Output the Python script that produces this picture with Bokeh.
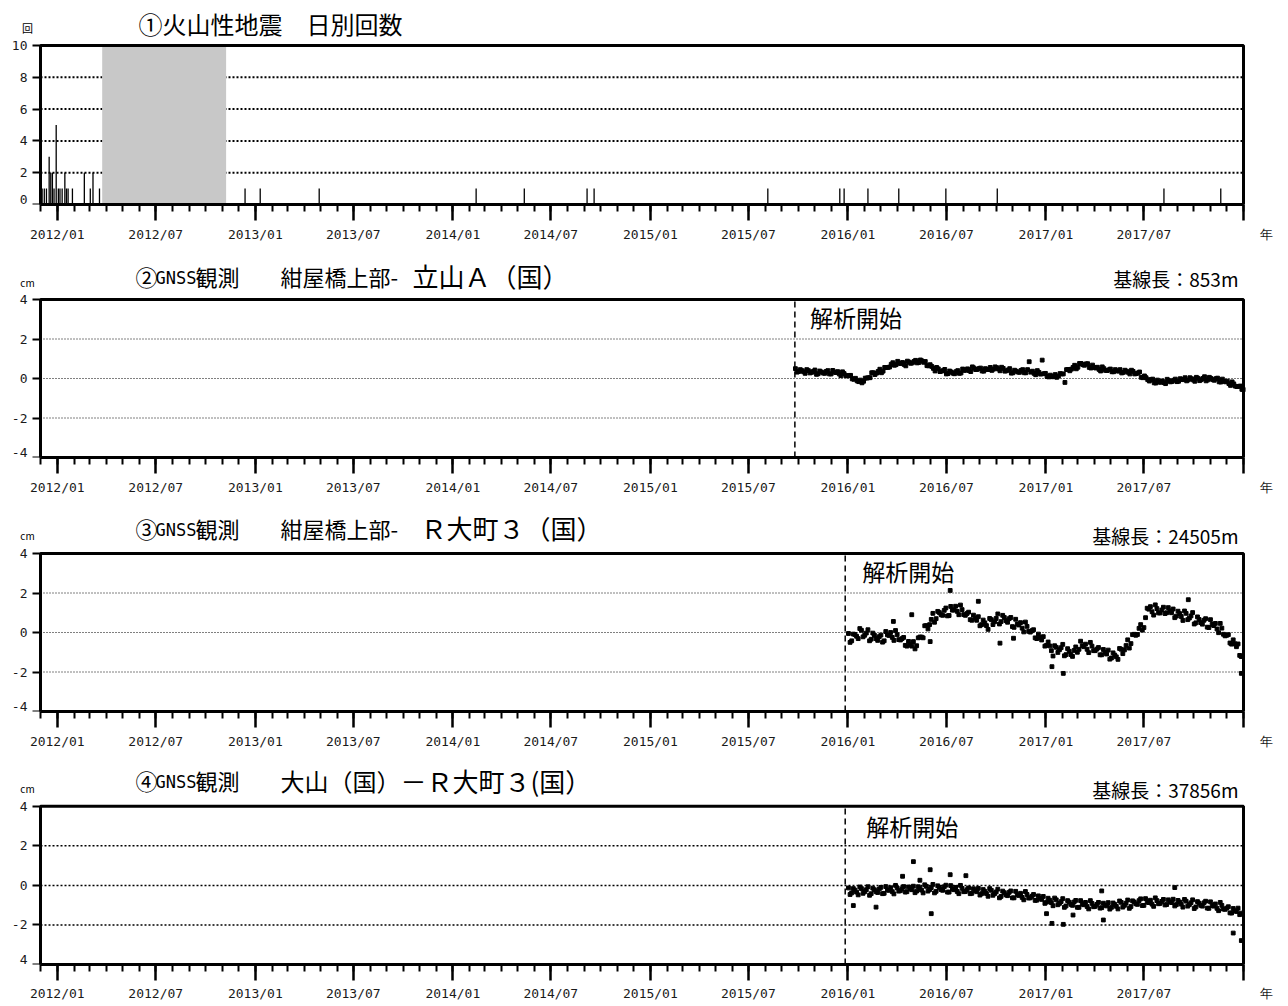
import pandas as pd
from bokeh.plotting import figure
from bokeh.layouts import column
from bokeh.models import Range1d, FixedTicker, Label, DatetimeTickFormatter
from bokeh.embed import file_html
from bokeh.resources import INLINE

# ---------------- data ----------------
x_start = "2011-12-01"
x_end = "2018-01-01"
major_tick_dates = ["2012-01-01", "2012-07-01", "2013-01-01", "2013-07-01", "2014-01-01",
                    "2014-07-01", "2015-01-01", "2015-07-01", "2016-01-01", "2016-07-01",
                    "2017-01-01", "2017-07-01"]
major_tick_labels = ["2012/01", "2012/07", "2013/01", "2013/07", "2014/01", "2014/07",
                     "2015/01", "2015/07", "2016/01", "2016/07", "2017/01", "2017/07"]
x_unit_label = "年"

# panel 1 : daily volcanic earthquake counts
eq_dates = ["2011-12-04", "2011-12-08", "2011-12-12", "2011-12-17", "2011-12-20", "2011-12-23",
            "2011-12-26", "2011-12-30", "2012-01-03", "2012-01-06", "2012-01-10", "2012-01-15",
            "2012-01-18", "2012-01-21", "2012-01-29", "2012-02-20", "2012-03-02", "2012-03-07",
            "2012-03-19", "2012-12-13", "2013-01-10", "2013-04-29", "2014-02-13", "2014-05-13",
            "2014-09-06", "2014-09-19", "2015-08-06", "2015-12-17", "2015-12-25", "2016-02-07",
            "2016-04-04", "2016-06-30", "2016-10-03", "2017-08-07", "2017-11-20"]
eq_counts = [1, 1, 1, 3, 2, 2, 1, 5, 1, 1, 1, 2, 1, 1, 1, 2, 1, 2, 1,
             1, 1, 1, 1, 1, 1, 1, 1, 1, 1, 1, 1, 1, 1, 1, 1]
gap_start = ["2012-03-24"]
gap_end = ["2012-11-08"]

# panel 2 : 紺屋橋上部-立山Ａ(国)  (samples every 6 days, second set shifted by 3 days)
gnss2_start = "2015-09-26"
gnss2_line = "2015-09-25"
gnss2_vals = [0.50, 0.35, 0.40, 0.26, 0.40, 0.31, 0.43, 0.24, 0.33, 0.26,
              0.40, 0.23, 0.32, 0.35, 0.14, 0.25, 0.13, 0.16, -0.04, -0.12,
              -0.08, -0.14, 0.02, 0.04, 0.29, 0.27, 0.47, 0.37, 0.56, 0.58,
              0.80, 0.70, 0.77, 0.81, 0.64, 0.83, 0.79, 0.92, 0.81, 0.89,
              0.86, 0.64, 0.61, 0.38, 0.49, 0.37, 0.46, 0.25, 0.33, 0.24,
              0.40, 0.28, 0.41, 0.49, 0.35, 0.53, 0.46, 0.53, 0.37, 0.45,
              0.56, 0.47, 0.55, 0.39, 0.51, 0.39, 0.50, 0.29, 0.37, 0.31,
              0.45, 0.29, 0.85, 0.37, 0.19, 0.31, 0.93, 0.26, 0.08, 0.09,
              0.20, 0.12, 0.23, -0.20, 0.46, 0.47, 0.67, 0.57, 0.76, 0.67,
              0.75, 0.53, 0.56, 0.57, 0.38, 0.50, 0.40, 0.48, 0.34, 0.39,
              0.45, 0.31, 0.37, 0.23, 0.36, 0.25, 0.33, 0.04, 0.04, -0.13,
              -0.03, -0.23, -0.18, -0.12, -0.26, -0.10, -0.15, -0.03, -0.14, -0.05,
              0.04, -0.07, -0.01, -0.14, 0.01, -0.06, 0.09, -0.07, 0.00, -0.09,
              0.02, -0.18, -0.14, -0.13, -0.35, -0.27, -0.41, -0.38, -0.56]
gnss2_vals_b = [0.32, 0.45, 0.34, 0.45, 0.28, 0.36, 0.21, 0.38, 0.28, 0.36,
                0.23, 0.41, 0.30, 0.23, 0.34, 0.15, 0.15, -0.02, 0.01, -0.16,
                -0.22, 0.02, 0.04, 0.29, 0.20, 0.36, 0.29, 0.56, 0.56, 0.72,
                0.67, 0.87, 0.76, 0.71, 0.88, 0.77, 0.86, 0.79, 0.94, 0.82,
                0.65, 0.70, 0.51, 0.56, 0.35, 0.40, 0.23, 0.38, 0.27, 0.35,
                0.26, 0.48, 0.42, 0.40, 0.59, 0.45, 0.50, 0.38, 0.50, 0.45,
                0.41, 0.59, 0.48, 0.57, 0.37, 0.43, 0.27, 0.42, 0.33, 0.41,
                0.29, 0.45, 0.32, 0.26, 0.40, 0.22, 0.24, 0.10, 0.17, 0.09,
                0.06, 0.25, 0.23, 0.45, 0.39, 0.56, 0.49, 0.76, 0.70, 0.74,
                0.56, 0.68, 0.53, 0.46, 0.59, 0.41, 0.44, 0.34, 0.45, 0.37,
                0.28, 0.42, 0.31, 0.42, 0.23, 0.28, 0.06, 0.13, -0.06, -0.06,
                -0.22, -0.08, -0.19, -0.21, -0.04, -0.17, -0.09, -0.16, -0.01, -0.06,
                -0.12, 0.04, -0.07, 0.06, -0.11, 0.00, -0.12, 0.06, -0.06, -0.01,
                -0.17, -0.03, -0.17, -0.26, -0.17, -0.39, -0.40, -0.55]

# panel 3 : 紺屋橋上部-Ｒ大町３(国)
gnss3_start = "2016-01-02"
gnss3_line = "2015-12-27"
gnss3_vals = [-0.05, -0.42, -0.10, -0.31, 0.11, -0.14, 0.14, -0.34, -0.14, -0.40,
              -0.13, -0.42, -0.12, 0.00, -0.40, -0.11, -0.38, -0.25, -0.69, -0.62,
              -0.46, -0.67, -0.23, -0.27, 0.35, 0.40, 0.97, 0.70, 1.01, 0.87,
              1.24, 0.86, 1.13, 1.33, 0.90, 1.16, 0.87, 1.03, 0.62, 0.72,
              0.80, 0.40, 0.49, 0.16, 0.65, 0.54, 0.94, 0.55, 0.76, 0.52,
              0.76, 0.26, 0.43, 0.50, 0.03, 0.31, 0.02, 0.14, -0.31, -0.26,
              -0.21, -0.65, -0.68, -1.19, -0.75, -0.87, -0.60, -1.12, -0.95, -1.21,
              -0.73, -0.85, -0.67, -0.59, -1.02, -0.69, -0.92, -0.76, -1.13, -1.00,
              -0.89, -1.29, -1.14, -1.36, -0.85, -0.88, -0.37, -0.56, -0.09, -0.10,
              0.40, 0.25, 1.23, 1.31, 0.88, 1.21, 0.99, 1.28, 1.00, 1.10,
              1.19, 0.83, 0.96, 0.61, 0.97, 0.73, 1.01, 0.49, 0.66, 0.42,
              0.70, 0.25, 0.41, 0.46, -0.01, 0.22, -0.17, -0.11, -0.59, -0.57,
              -0.58, -1.22]
gnss3_vals_b = [-0.50, -0.08, -0.19, 0.20, -0.22, -0.03, -0.42, -0.03, -0.31, -0.21,
                -0.49, 0.05, -0.15, -0.25, 0.10, -0.36, -0.31, -0.65, -0.45, -0.69,
                -0.83, -0.27, -0.23, 0.34, 0.18, 0.66, 0.52, 1.07, 0.90, 1.12,
                0.84, 1.32, 1.14, 1.07, 1.39, 0.91, 0.96, 0.65, 0.88, 0.62,
                0.34, 0.63, 0.35, 0.71, 0.40, 0.71, 0.43, 0.87, 0.60, 0.70,
                0.30, 0.67, 0.38, 0.22, 0.53, 0.06, 0.09, -0.27, -0.08, -0.38,
                -0.69, -0.48, -0.92, -0.67, -1.01, -0.77, -1.18, -0.82, -1.12, -0.91,
                -1.00, -0.44, -0.72, -0.85, -0.50, -0.92, -0.84, -1.13, -0.86, -1.09,
                -1.35, -1.03, -1.23, -0.81, -1.07, -0.66, -0.79, -0.11, -0.14, 0.21,
                0.12, 0.75, 1.18, 1.05, 1.40, 0.99, 1.14, 0.96, 1.26, 1.00,
                0.75, 1.08, 0.81, 1.09, 0.65, 0.84, 0.43, 0.79, 0.50, 0.62,
                0.27, 0.65, 0.35, 0.18, 0.46, -0.09, -0.14, -0.53, -0.37, -0.72,
                -1.16]
gnss3_out_dates = ["2016-03-25", "2016-04-28", "2016-06-01", "2016-07-08", "2016-08-29",
                   "2016-10-08", "2016-11-02", "2017-01-12", "2017-02-02", "2017-09-21",
                   "2017-12-28"]
gnss3_out_vals = [0.56, 0.90, -0.46, 2.13, 1.58, -0.54, -0.29, -1.73, -2.07, 1.66, -2.07]

# panel 4 : 大山(国)-Ｒ大町３(国)
gnss4_start = "2016-01-02"
gnss4_line = "2015-12-27"
gnss4_vals = [-0.13, -0.38, -0.24, -0.48, -0.16, -0.32, -0.07, -0.42, -0.22, -0.36,
              -0.10, -0.40, -0.23, -0.12, -0.43, -0.13, -0.27, -0.06, -0.32, -0.18,
              -0.04, -0.29, -0.14, -0.38, -0.05, -0.21, 0.05, -0.30, -0.10, -0.25,
              0.01, -0.34, -0.19, -0.10, -0.42, -0.15, -0.31, -0.13, -0.40, -0.27,
              -0.15, -0.42, -0.30, -0.55, -0.25, -0.42, -0.19, -0.56, -0.37, -0.52,
              -0.28, -0.63, -0.48, -0.40, -0.73, -0.46, -0.63, -0.46, -0.75, -0.65,
              -0.56, -0.85, -0.75, -1.03, -0.73, -0.91, -0.67, -1.04, -0.85, -1.01,
              -0.76, -1.11, -0.95, -0.86, -1.19, -0.91, -1.06, -0.86, -1.13, -1.00,
              -0.87, -1.11, -0.96, -1.19, -0.86, -1.01, -0.74, -1.07, -0.84, -0.96,
              -0.68, -1.01, -0.85, -0.75, -1.06, -0.77, -0.91, -0.71, -0.97, -0.83,
              -0.70, -0.97, -0.84, -1.10, -0.80, -0.97, -0.73, -1.09, -0.90, -1.05,
              -0.80, -1.16, -1.02, -0.94, -1.28, -1.01, -1.21, -1.08, -1.40, -1.28,
              -1.15, -1.40]
gnss4_vals_b = [-0.46, -0.16, -0.34, -0.08, -0.40, -0.22, -0.50, -0.14, -0.32, -0.18,
                -0.42, -0.06, -0.25, -0.32, 0.00, -0.29, -0.17, -0.34, -0.08, -0.22,
                -0.37, -0.07, -0.24, 0.03, -0.29, -0.11, -0.38, -0.02, -0.21, -0.07,
                -0.34, -0.01, -0.22, -0.31, 0.00, -0.32, -0.22, -0.42, -0.17, -0.32,
                -0.49, -0.21, -0.41, -0.16, -0.50, -0.33, -0.63, -0.29, -0.48, -0.35,
                -0.63, -0.30, -0.51, -0.61, -0.31, -0.64, -0.55, -0.76, -0.53, -0.71,
                -0.91, -0.65, -0.87, -0.64, -0.98, -0.82, -1.11, -0.77, -0.96, -0.84,
                -1.11, -0.77, -0.98, -1.07, -0.77, -1.08, -0.96, -1.15, -0.90, -1.04,
                -1.20, -0.89, -1.06, -0.79, -1.10, -0.90, -1.16, -0.78, -0.93, -0.77,
                -1.02, -0.67, -0.87, -0.95, -0.63, -0.93, -0.81, -0.99, -0.73, -0.87,
                -1.04, -0.76, -0.95, -0.71, -1.05, -0.88, -1.17, -0.82, -1.01, -0.88,
                -1.15, -0.83, -1.05, -1.16, -0.86, -1.20, -1.15, -1.39, -1.17, -1.32,
                -1.48]
gnss4_out_dates = ["2016-01-11", "2016-02-22", "2016-04-11", "2016-05-01", "2016-05-13",
                   "2016-06-01", "2016-06-03", "2016-07-08", "2016-08-06", "2017-01-02",
                   "2017-01-12", "2017-02-02", "2017-02-20", "2017-04-14", "2017-04-17",
                   "2017-08-27", "2017-12-13", "2017-12-28"]
gnss4_out_vals = [-1.02, -1.10, 0.46, 1.20, 0.26, 0.79, -1.43, 0.54, 0.49, -1.43,
                  -1.92, -1.97, -1.50, -0.28, -1.75, -0.11, -2.41, -2.79]

y1_ticks = [0, 2, 4, 6, 8, 10]
y1_labels = ["0", "2", "4", "6", "8", "10"]
y_gnss_ticks = [-4, -2, 0, 2, 4]
y_gnss_labels = ["-4", "-2", "0", "2", "4"]
y4_labels = ["4", "-2", "0", "2", "4"]

# ---------------- layout constants (page pixels) ----------------
JP = "Noto Sans CJK JP"
MONO = "DejaVu Sans Mono"
PAGE_W = 1288
BOX_L, BOX_R = 40, 1243          # left / right edge of every plotting box
FRAME_L, FRAME_R = 10, 1245      # bokeh frame (wider than the box, so side texts fit)
YLAB_X = 27                      # right edge of the y tick labels


def ms(d):
    return pd.Timestamp(d).value / 1e6


def dates6(start, n, shift_days=0):
    s = pd.Timestamp(start) + pd.Timedelta(days=shift_days)
    return [ms(d) for d in pd.date_range(s, periods=n, freq="6D")]


x0ms, x1ms = ms(x_start), ms(x_end)
ms_per_px = (x1ms - x0ms) / (BOX_R - BOX_L)
xr = Range1d(x0ms - (BOX_L - FRAME_L) * ms_per_px, x1ms + (FRAME_R - BOX_R) * ms_per_px)
major_ms = [ms(d) for d in major_tick_dates]
minor_ms = [ms(d) for d in pd.date_range(x_start, x_end, freq="MS")]
x_overrides = {m: l for m, l in zip(major_ms, major_tick_labels)}
x_overrides[x1ms] = "\u00a0" * 6 + x_unit_label   # unit "年" right of the end tick


def px_x(page_x):
    return x0ms + (page_x - BOX_L) * ms_per_px


def make_panel(canvas_top, box_top, box_bottom, canvas_bottom, y0, y1, yticks, ylabels,
               grid_ticks, grid_w, grid_dash, standoff=6):
    upp = (y1 - y0) / (box_bottom - box_top)
    y_top = y1 + (box_top - canvas_top) * upp
    p = figure(width=PAGE_W, height=canvas_bottom - canvas_top, x_axis_type="datetime",
               x_range=xr, y_range=Range1d(y0, y_top), output_backend="svg",
               toolbar_location=None, min_border_left=FRAME_L,
               min_border_right=PAGE_W - FRAME_R, min_border_top=0,
               min_border_bottom=canvas_bottom - box_bottom)
    p.outline_line_color = None
    p.grid.visible = False
    xa = p.xaxis[0]
    xa.bounds = (x0ms, x1ms)
    xa.ticker = FixedTicker(ticks=major_ms + [x1ms], minor_ticks=minor_ms)
    xa.formatter = DatetimeTickFormatter(months="%Y/%m", years="%Y/%m", days="%Y/%m")
    xa.major_label_overrides = x_overrides
    xa.major_tick_out = 16
    xa.major_tick_in = 0
    xa.minor_tick_out = 7
    xa.minor_tick_in = 0
    xa.major_tick_line_width = 2.5
    xa.minor_tick_line_width = 2
    xa.major_label_standoff = standoff
    xa.major_label_text_font = MONO
    xa.major_label_text_font_size = "13px"
    xa.major_label_text_color = "#1a1a1a"
    # y axis drawn at the left edge of the box; its tick labels are written next to it
    ya = p.yaxis[0]
    ya.bounds = (y0, y1)
    ya.fixed_location = x0ms
    ya.ticker = FixedTicker(ticks=yticks, minor_ticks=[])
    ya.major_label_overrides = {t: "" for t in yticks}
    ya.major_label_standoff = 0
    ya.major_label_text_font_size = "1px"
    ya.major_tick_out = 8
    ya.major_tick_in = 0
    ya.major_tick_line_width = 2
    for ax in (xa, ya):
        ax.axis_line_width = 3
        ax.axis_line_color = "black"
    for t, lab in zip(yticks, ylabels):
        # the lowest label sits on the x axis line: lift it so it is not cut by the frame
        p.add_layout(Label(x=px_x(YLAB_X), y=t, x_units="data", y_units="data", text=lab,
                           y_offset=5 if t == y0 else 0, text_font=MONO,
                           text_font_size="13px", text_align="right",
                           text_baseline="middle", text_color="#1a1a1a"))
    # dotted reference lines inside the box
    p.segment(x0=[x0ms] * len(grid_ticks), x1=[x1ms] * len(grid_ticks), y0=grid_ticks,
              y1=grid_ticks, line_color="black", line_width=grid_w, line_dash=grid_dash)

    def py(page_y):
        return y1 + (box_top - page_y) * upp

    return p, py


def draw_box(p, y0, y1):
    p.quad(left=[x0ms], right=[x1ms], bottom=[y0], top=[y1], fill_color=None,
           line_color="black", line_width=3)


def put_texts(p, py, items):
    for text, x, y, size, font, align in items:
        p.add_layout(Label(x=px_x(x), y=py(y), x_units="data", y_units="data", text=text,
                           text_font=font, text_font_size=f"{size}px", text_align=align,
                           text_baseline="middle", text_color="black"))


# ---------------- panel 1 ----------------
p1, py1 = make_panel(0, 45, 204, 248, 0, 10, y1_ticks, y1_labels, [2, 4, 6, 8], 2, "2 2")
p1.quad(left=[ms(d) for d in gap_start], right=[ms(d) for d in gap_end], bottom=[0],
        top=[max(y1_ticks)], fill_color="#c8c8c8", line_color=None)
eq_ms = [ms(d) for d in eq_dates]
p1.segment(x0=eq_ms, y0=[0] * len(eq_ms), x1=eq_ms, y1=eq_counts, line_color="black",
           line_width=1.3)
draw_box(p1, 0, 10)
put_texts(p1, py1, [("①火山性地震　日別回数", 138, 23, 24, JP, "left"),
                    ("回", 27, 27, 11, JP, "center")])


# ---------------- panels 2-4 ----------------
def gnss_panel(geom, vals, vals_b, start, line, ylabels, grid_w, grid_dash, ana_off, ana_page_y,
               texts, out_dates=None, out_vals=None, standoff=6):
    p, py = make_panel(*geom, -4, 4, y_gnss_ticks, ylabels, [-2, 0, 2], grid_w, grid_dash,
                       standoff=standoff)
    p.segment(x0=[ms(line)], x1=[ms(line)], y0=[-4], y1=[4], line_color="black",
              line_width=1.5, line_dash="6 4")
    p.scatter(x=dates6(start, len(vals)), y=vals, marker="square", size=3.8, color="black")
    p.scatter(x=dates6(start, len(vals_b), 3), y=vals_b, marker="square", size=3.8,
              color="black")
    if out_dates:
        p.scatter(x=[ms(d) for d in out_dates], y=out_vals, marker="square", size=3.8,
                  color="black")
    draw_box(p, -4, 4)
    p.add_layout(Label(x=ms(line), y=py(ana_page_y), x_units="data", y_units="data",
                       x_offset=ana_off, text="解析開始", text_font=JP, text_font_size="23px",
                       text_baseline="middle", text_color="black"))
    put_texts(p, py, texts)
    return p


texts2 = [("②", 135, 275, 22, JP, "left"), ("GNSS", 155, 277, 17, MONO, "left"),
          ("観測", 195, 275, 22, JP, "left"), ("紺屋橋上部-", 280, 275, 22, JP, "left"),
          ("立山Ａ（国）", 412, 275, 26, JP, "left"),
          ("基線長：853m", 1238, 278, 19, JP, "right"), ("cm", 27, 282, 10, JP, "center")]
p2 = gnss_panel((248, 299, 457, 502), gnss2_vals, gnss2_vals_b, gnss2_start, gnss2_line,
                y_gnss_labels, 1, "1 2", 15, 316, texts2)

texts3 = [("③", 135, 527, 22, JP, "left"), ("GNSS", 155, 529, 17, MONO, "left"),
          ("観測", 195, 527, 22, JP, "left"), ("紺屋橋上部-", 280, 527, 22, JP, "left"),
          ("Ｒ大町３（国）", 420, 527, 26, JP, "left"),
          ("基線長：24505m", 1238, 535, 19, JP, "right"), ("cm", 27, 535, 10, JP, "center")]
p3 = gnss_panel((502, 553, 711, 756), gnss3_vals, gnss3_vals_b, gnss3_start, gnss3_line,
                y_gnss_labels, 1, "1 2", 17, 570, texts3, gnss3_out_dates, gnss3_out_vals)

texts4 = [("④", 135, 780, 22, JP, "left"), ("GNSS", 155, 782, 17, MONO, "left"),
          ("観測", 195, 780, 22, JP, "left"), ("大山（国）", 280, 780, 24, JP, "left"),
          ("－Ｒ大町３(国）", 400, 780, 26, JP, "left"),
          ("基線長：37856m", 1238, 789, 19, JP, "right"), ("cm", 27, 788, 10, JP, "center")]
p4 = gnss_panel((756, 806, 965, 1003), gnss4_vals, gnss4_vals_b, gnss4_start, gnss4_line,
                y4_labels, 1.5, "2 2", 21, 826, texts4, gnss4_out_dates, gnss4_out_vals,
                standoff=5)

layout = column(p1, p2, p3, p4, spacing=0)
open("out.html", "w").write(file_html(layout, INLINE))
